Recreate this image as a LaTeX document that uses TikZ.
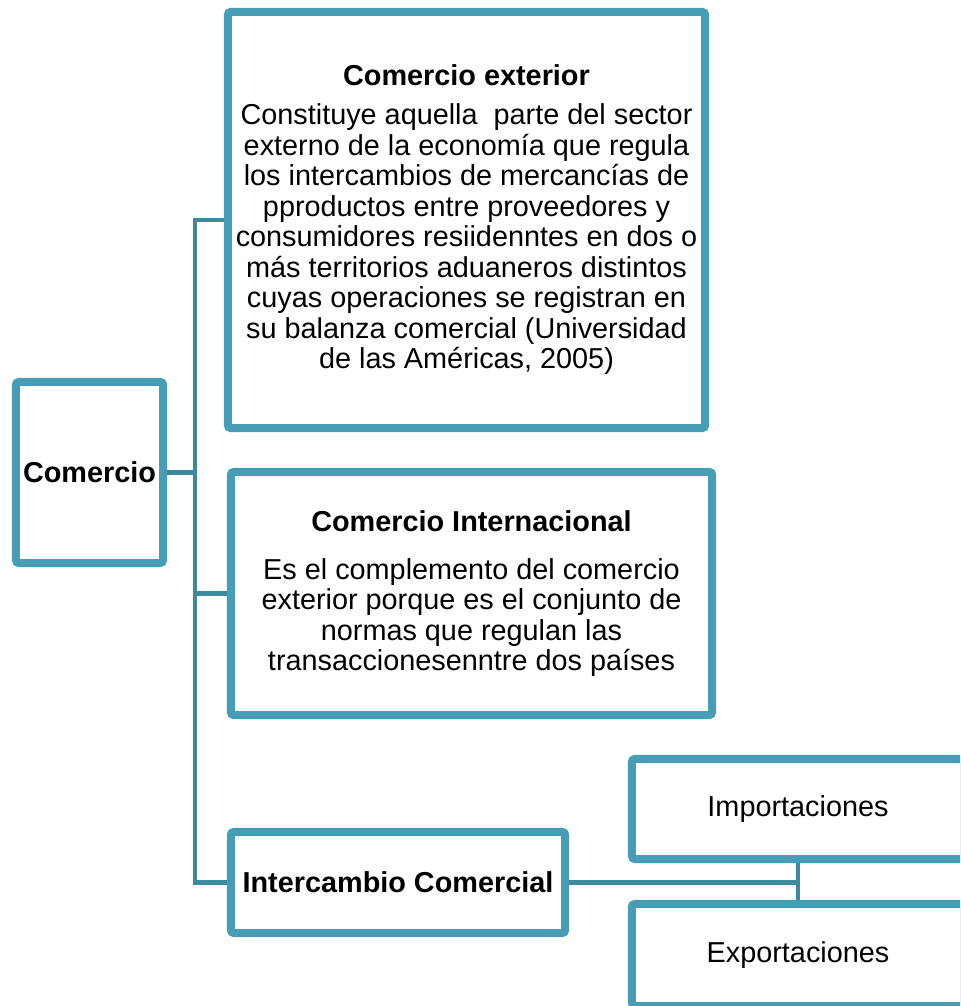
\documentclass[tikz,border=0pt]{standalone}
\usepackage{fontspec}
\setmainfont{Liberation Sans}
\usetikzlibrary{shadows}
\definecolor{boxblue}{RGB}{71,157,181}
\definecolor{lineblue}{RGB}{60,138,160}
\begin{document}
\begin{tikzpicture}[x=0.025cm, y=-0.025cm,
    box/.style={draw=boxblue, line width=5.7pt, fill=white, rounded corners=2pt,
        align=center, inner sep=0pt,
        font=\fontsize{20.5}{21.7}\selectfont,
        drop shadow={opacity=0.25, shadow xshift=1pt, shadow yshift=-1.5pt}},
    conn/.style={draw=lineblue, line width=3.4pt}]
    \clip (0,0) rectangle (960,1006);
    \useasboundingbox (0,0) rectangle (960,1006);

    % left
    \node[box, minimum width=3.675cm, minimum height=4.525cm] (com) at (89.5,472.5) {\textbf{Comercio}};

    % branches
    \node[box, minimum width=11.925cm, minimum height=10.4cm] (ext) at (466.5,220) {\textbf{Comercio exterior}\\[6pt]
        Constituye aquella~ parte del sector\\
        externo de la economía que regula\\
        los intercambios de mercancías de\\
        pproductos entre proveedores y\\
        consumidores resiidenntes en dos o\\
        más territorios aduaneros distintos\\
        cuyas operaciones se registran en\\
        su balanza comercial (Universidad\\
        de las Américas, 2005)};
    \node[box, minimum width=12.025cm, minimum height=6.075cm] (inte) at (471.5,593.5) {\textbf{Comercio Internacional}\\[12.5pt]
        Es el complemento del comercio\\
        exterior porque es el conjunto de\\
        normas que regulan las\\
        transaccionesenntre dos países};
    \node[box, minimum width=8.35cm, minimum height=2.525cm] (inter) at (398,882.5) {\textbf{Intercambio Comercial}};

    % right
    \node[box, minimum width=8.3cm, minimum height=2.5cm] (imp) at (798,809) {Importaciones};
    \node[box, minimum width=8.3cm, minimum height=2.55cm] (exp) at (798,955) {Exportaciones};

    \coordinate (trunk) at (195,0);
    \draw[conn] (ext.west) -| (trunk |- inter.west) -- (inter.west);
    \draw[conn] (com.east) -- (trunk |- com.east);
    \draw[conn] (inte.west) -- (trunk |- inte.west);
    \draw[conn] (inter.east) -- (imp.south |- inter.east);
    \draw[conn] (imp.south) -- (exp.north);
\end{tikzpicture}
\end{document}
